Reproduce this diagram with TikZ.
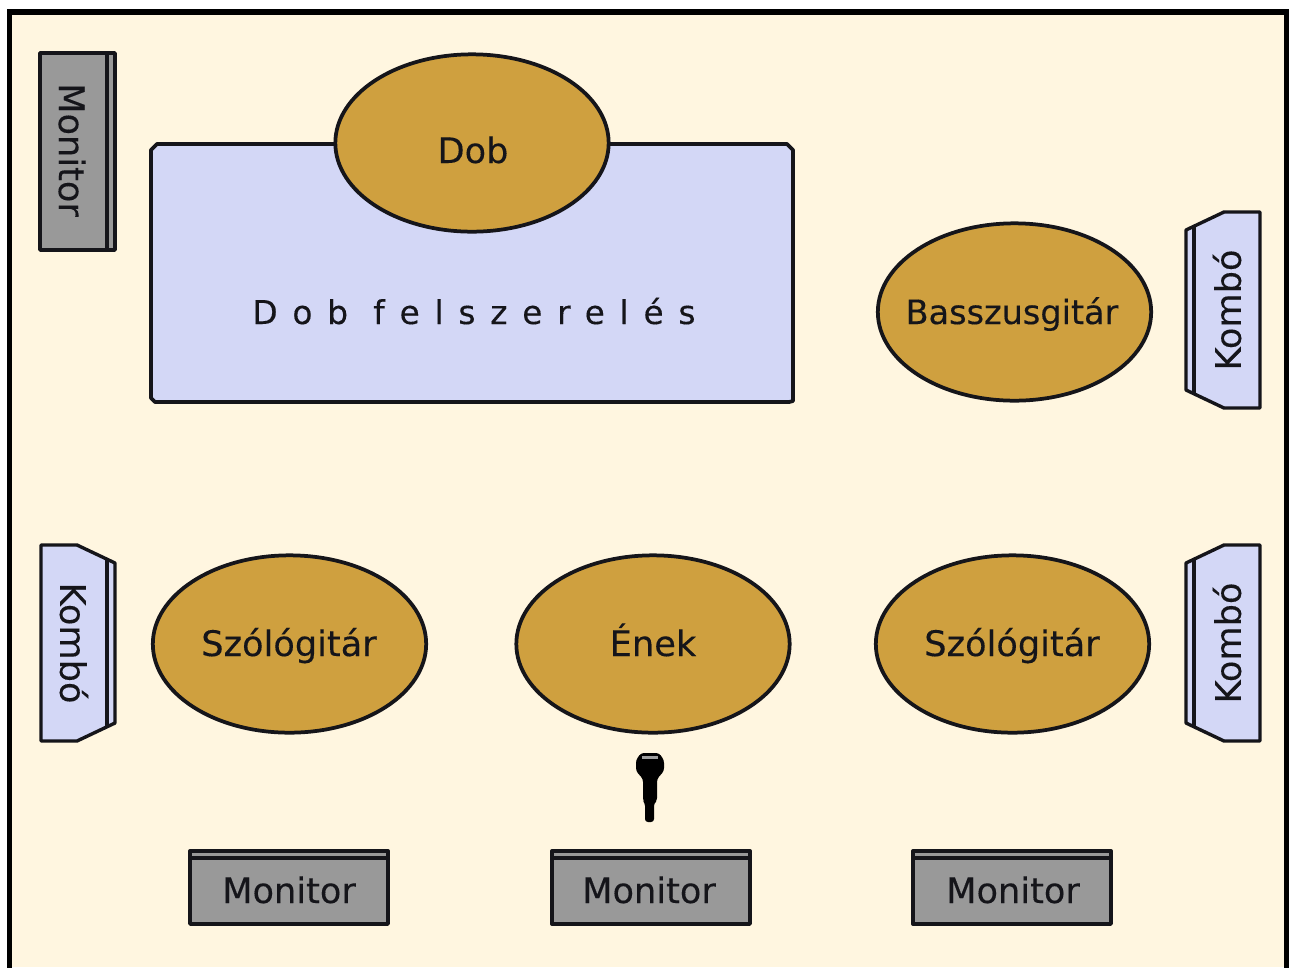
\documentclass[tikz,border=0pt]{standalone}
\usepackage{fontspec}
\setmainfont{DejaVu Sans}[FakeBold=0.25]
\newfontfamily\spaced[LetterSpace=45,FakeBold=0.25]{DejaVu Sans}
\definecolor{cream}{HTML}{FFF6E0}
\definecolor{lilac}{HTML}{D3D7F6}
\definecolor{ochre}{HTML}{CFA03F}
\definecolor{steel}{HTML}{999999}
\definecolor{ink}{HTML}{15151A}
\usetikzlibrary{shapes.geometric}
\tikzset{
  x=0.03cm, y=-0.03cm,
  outline/.style={draw=ink, line width=3.2pt, line join=round},
  thin outline/.style={draw=ink, line width=2.9pt, line join=round},
  player/.style={ellipse, outline, fill=ochre, minimum width=8.2cm, minimum height=5.32cm, inner sep=0pt},
  lbl/.style={text=ink, font=\fontsize{30}{32}\selectfont, inner sep=0pt},
  monitorbox/.style={thin outline, fill=steel},
  kombobox/.style={thin outline, fill=lilac}
}
\begin{document}
\begin{tikzpicture}
\useasboundingbox (0,0) rectangle (1289,967);
\fill[white] (0,0) rectangle (1289,967);
\fill[cream] (9,12) rectangle (1287,967);
\draw[draw=black, line width=4.4pt] (9.5,975) -- (9.5,12) -- (1287,12) -- (1287,975);
% drum kit
\draw[outline, fill=lilac] (157,144) -- (787,144) -- (793,150) -- (793,401) -- (789,402) -- (155,402) -- (151,398) -- (151,150) -- cycle;
\node[lbl, font=\fontsize{28}{30}\selectfont\spaced, anchor=base] (kit) at (474,324) {Dob felszerelés};
% players
\node[player] (dob) at (472,143) {};
\node[lbl, anchor=base] (dobt) at (473,163) {Dob};
\node[player] (bass) at (1014.5,312) {};
\node[lbl, anchor=base, font=\fontsize{28.6}{30}\selectfont] (basst) at (1012,324) {Basszusgitár};
\node[player] (szolo1) at (289.5,644) {};
\node[lbl, anchor=base] (szolo1t) at (289,656) {Szólógitár};
\node[player] (enek) at (653,644) {};
\node[lbl, anchor=base] (enekt) at (653,656) {Ének};
\node[player] (szolo2) at (1012.5,644) {};
\node[lbl, anchor=base] (szolo2t) at (1012,656) {Szólógitár};
% top-left monitor
\draw[monitorbox] (40,53) rectangle (115,250);
\draw[thin outline] (107,53) -- (107,250);
\node[lbl, rotate=-90] (mon0) at (72,150) {Monitor};
% bottom monitors
\foreach \n/\l in {a/190, b/552, c/913}{
  \draw[monitorbox] (\l,851) rectangle ++(198,73);
  \draw[thin outline] (\l,858) -- ++(198,0);
}
\node[lbl, anchor=base] (mona) at (289,903) {Monitor};
\node[lbl, anchor=base] (monb) at (649,903) {Monitor};
\node[lbl, anchor=base] (monc) at (1013,903) {Monitor};
% right combos
\draw[kombobox] (1186,230) -- (1224,212) -- (1260,212) -- (1260,408) -- (1224,408) -- (1186,390) -- cycle;
\draw[thin outline] (1194,227) -- (1194,394);
\node[lbl, rotate=90] (k1) at (1227,310) {Kombó};
\draw[kombobox] (1186,563) -- (1224,545) -- (1260,545) -- (1260,741) -- (1224,741) -- (1186,723) -- cycle;
\draw[thin outline] (1194,560) -- (1194,727);
\node[lbl, rotate=90] (k2) at (1227,643) {Kombó};
% left combo
\draw[kombobox] (115,563) -- (77,545) -- (41,545) -- (41,741) -- (77,741) -- (115,723) -- cycle;
\draw[thin outline] (107,560) -- (107,727);
\node[lbl, rotate=-90] (k3) at (74,643) {Kombó};
% microphone
\fill[black, rounded corners=2.5pt] (641,753) -- (659,753) -- (664,760) -- (664,771) -- (657,779) -- (657,801) -- (654,803) -- (654,822) -- (645,822) -- (645,803) -- (643,801) -- (643,779) -- (636,771) -- (636,760) -- cycle;
\fill[gray!75] (642,756) rectangle (658,759);
\end{tikzpicture}
\end{document}
